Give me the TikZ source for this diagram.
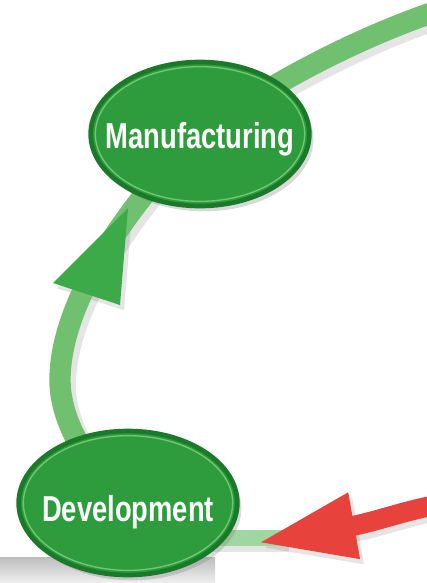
\documentclass[tikz,border=0pt]{standalone}
\usepackage{fontspec}
\setmainfont{Liberation Sans}
\usepackage{graphicx}
\usepackage{tikz}
\usetikzlibrary{shapes.geometric,arrows.meta,backgrounds,shadows}

\definecolor{bandgreen}{RGB}{112,192,112}
\definecolor{stubgreen}{RGB}{160,214,160}
\definecolor{headgreen}{RGB}{60,170,72}
\definecolor{ellfill}{RGB}{46,156,60}
\definecolor{ellrim}{RGB}{27,122,42}
\definecolor{ellhl}{RGB}{112,200,116}
\definecolor{arrowred}{RGB}{232,66,60}

\begin{document}
\begin{tikzpicture}[x=0.75pt,y=0.75pt,yscale=-1,
    phase/.style={ellipse, minimum width=164pt, minimum height=108pt, inner sep=0pt,
        text height=0pt, text depth=0pt,
        fill=ellfill, draw=ellrim, line width=3.5pt, text=white,
        font=\bfseries\fontsize{27}{30}\selectfont,
        drop shadow={shadow xshift=3pt, shadow yshift=-4pt, opacity=0.3},
        path picture={\draw[ellhl, line width=1pt] (path picture bounding box.center) ellipse [x radius=78.5pt, y radius=50.5pt];}},
    band/.style={draw=bandgreen, line width=16pt},
    stub/.style={draw=stubgreen, line width=12.5pt},
    redarrow/.style={draw=arrowred, line width=15pt, -{Triangle[length=74pt,width=46pt]}},
    shade band/.style={draw=black, opacity=0.1, line width=18pt},
    shade head/.style={fill=black, opacity=0.1}]
    \useasboundingbox (0,0) rectangle (426,583);

    % Nodes
    \node [phase] (manu) at (200,134) {\makebox[0pt]{\raisebox{-10.5pt}{\scalebox{0.76}[1]{Manufacturing}}}};
    \node [phase] (devel) at (128,503) {\makebox[0pt]{\raisebox{-14pt}{\scalebox{0.76}[1]{Development}}}};

    \coordinate (topin) at (440,10);
    \coordinate (redin) at (440,504);
    \coordinate (redtip) at (257,543);
    \coordinate (stubend) at (285,538);

    \begin{scope}[on background layer]
    % grey strip
    \shade [top color=black!26, bottom color=black!6] (0,557) rectangle (215,583);

    % shadows
    \begin{scope}[transform canvas={xshift=3pt,yshift=-4pt}]
    \draw [shade band] (topin) .. controls (350,40) and (260,90) .. (manu.center);
    \draw [shade band] (manu.center) .. controls (150,180) and (60,290) .. (60,380) .. controls (60,430) and (100,480) .. (devel.center);
    \fill [shade head] (128,208) -- (53,283) -- (120,305) -- cycle;
    \draw [shade band, line width=13pt] (devel.center |- stubend) -- (stubend);
    \draw [draw=black, opacity=0.1, line width=15pt, -{Triangle[length=74pt,width=46pt]}] (redin) .. controls (400,512) and (375,522) .. (redtip);
    \end{scope}

    %Curve Lines
    \draw [band] (topin) .. controls (350,40) and (260,90) .. (manu.center);
    \draw [band] (manu.center) .. controls (150,180) and (60,290) .. (60,380) .. controls (60,430) and (100,480) .. (devel.center);
    % arrow head
    \fill [headgreen] (128,208) -- (53,283) -- (120,305) -- cycle;

    % stub and red arrow
    \draw [stub] (devel.center |- stubend) -- (stubend);
    \draw [redarrow] (redin) .. controls (400,512) and (375,522) .. (redtip);
    \end{scope}

\end{tikzpicture}
\end{document}
